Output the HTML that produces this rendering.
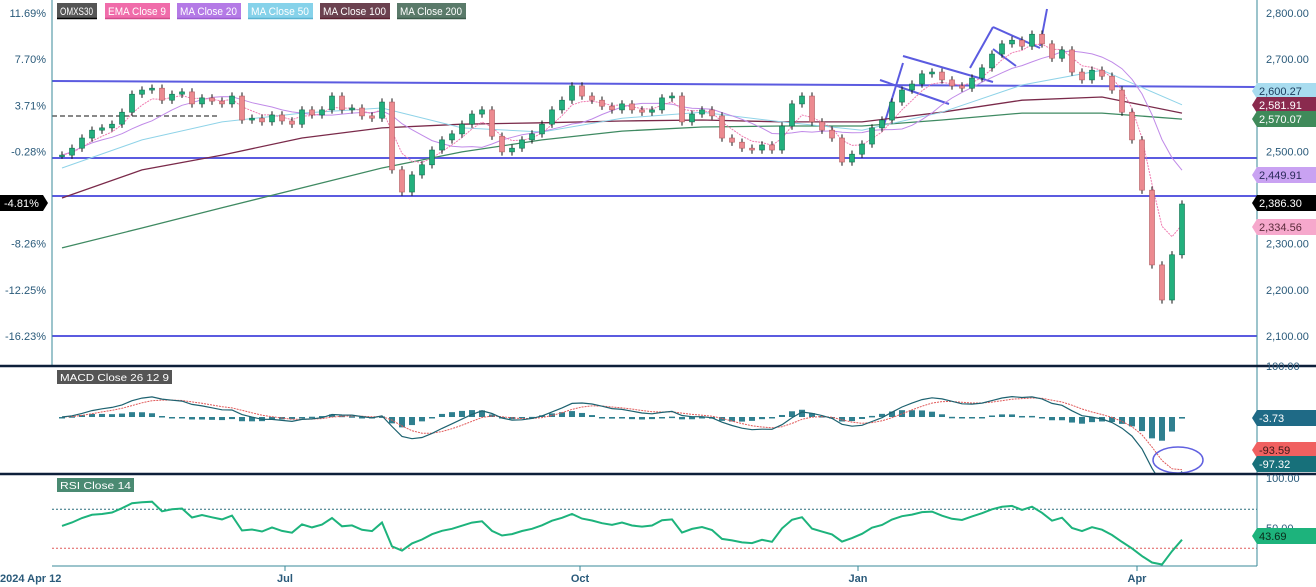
<!DOCTYPE html>
<html><head><meta charset="utf-8">
<style>
body{margin:0;background:#fff;width:1316px;height:587px;overflow:hidden;font-family:"Liberation Sans",sans-serif}
svg{display:block}
text{font-family:"Liberation Sans",sans-serif}
</style></head>
<body>
<svg id="chart" width="1316" height="587" viewBox="0 0 1316 587" xmlns="http://www.w3.org/2000/svg">
<defs>
<clipPath id="macdClip"><rect x="52" y="367" width="1205" height="106"/></clipPath>
<clipPath id="rsiClip"><rect x="52" y="475" width="1205" height="91"/></clipPath>
</defs>
<rect x="0" y="0" width="1316" height="587" fill="#fff"/>
<g id="grid"></g>
<g id="main"></g>
<g id="macd" clip-path="url(#macdClip)"></g>
<g id="rsi" clip-path="url(#rsiClip)"></g>
<g id="axes"></g>
</svg>
<script>
// ---- data ----
const closes=[2492,2507,2529,2546,2551,2559,2585,2624,2633,2637,2611,2624,2629,2603,2616,2609,2603,2620,2568,2572,2564,2579,2566,2559,2590,2579,2590,2620,2590,2594,2577,2572,2607,2460,2412,2449,2471,2503,2525,2538,2559,2581,2590,2533,2499,2507,2525,2538,2559,2590,2611,2642,2620,2611,2598,2590,2603,2590,2585,2590,2616,2620,2564,2581,2590,2577,2529,2520,2507,2503,2514,2503,2555,2603,2620,2564,2546,2529,2477,2494,2516,2551,2568,2607,2633,2646,2668,2672,2655,2642,2637,2659,2681,2711,2733,2741,2728,2754,2733,2702,2720,2672,2655,2676,2663,2633,2585,2525,2416,2254,2178,2276,2386];
const maIdx=[0,8,16,24,32,40,48,56,64,72,80,88,96,104,112];
const ma50=[2464,2525,2564,2583,2594,2551,2542,2572,2585,2564,2546,2585,2644,2676,2601];
const ma100=[2399,2460,2492,2529,2551,2559,2562,2566,2568,2564,2564,2585,2611,2618,2583];
const ma200=[2291,2334,2378,2421,2464,2499,2525,2544,2553,2555,2555,2568,2583,2583,2570];
const priceTicks=[2800,2700,2500,2300,2200,2100];
const pctTicks=["11.69%","7.70%","3.71%","-0.28%","-8.26%","-12.25%","-16.23%"];
const pctTickPrice=[2800,2700,2600,2500,2300,2200,2100];
const dateLabels=["2024 Apr 12","Jul","Oct","Jan","Apr"];
const dateIdx=[-1,22.3,51.8,79.6,107.5];
// ---- scales ----
const NS="http://www.w3.org/2000/svg";
const xOf=i=>62+10*i;
const yP=p=>13+(2800-p)*0.4614;
const yM=v=>417-v*0.56;
const yR=v=>480+(100-v)*0.975;
function el(tag,attrs,parent,txt){const e=document.createElementNS(NS,tag);for(const k in attrs)e.setAttribute(k,attrs[k]);if(txt!==undefined)e.textContent=txt;parent.appendChild(e);return e;}
const G=id=>document.getElementById(id);
function emaArr(a,n){const k=2/(n+1);const r=[];let e=a[0];a.forEach((v,i)=>{e=i?v*k+e*(1-k):v;r.push(e);});return r;}
function smaArr(a,n){return a.map((v,i)=>{const s=a.slice(Math.max(0,i-n+1),i+1);return s.reduce((x,y)=>x+y,0)/s.length;});}
function poly(pts,attrs,parent,name){const p=el('polyline',Object.assign({points:pts.map(q=>q[0].toFixed(1)+','+q[1].toFixed(1)).join(' '),fill:'none'},attrs),parent);return p;}

// annotations
const ann=G('grid');
[[52,81,1257,87],[52,158,1257,158],[52,196,1257,196],[52,336,1257,336],
 [883,128,903,63],[880,80,949,104],[903,56,993,82],[970,68,993,27],[993,27,1040,48],[993,49,1016,66],[1040,46,1047,9]].forEach(l=>{
 const e=el('line',{x1:l[0],y1:l[1],x2:l[2],y2:l[3],stroke:'#5b5be0','stroke-width':2},ann);
 
 
});
const dl=el('line',{x1:52,y1:116,x2:220,y2:116,stroke:'#888','stroke-width':2,'stroke-dasharray':'5,3'},ann);



// moving averages
const main=G('main');
poly(maIdx.map((i,k)=>[xOf(i),yP(ma200[k])]),{stroke:'#3f8a62','stroke-width':1.3},main,'ma200-line');
poly(maIdx.map((i,k)=>[xOf(i),yP(ma100[k])]),{stroke:'#7a2a4a','stroke-width':1.3},main,'ma100-line');
poly(maIdx.map((i,k)=>[xOf(i),yP(ma50[k])]),{stroke:'#8fd3e8','stroke-width':1},main,'ma50-line');
const ma20=smaArr(closes,10), ema9=emaArr(closes,4.5);
poly(ma20.map((v,i)=>[xOf(i),yP(v)]),{stroke:'#c08ae8','stroke-width':1},main,'ma20-line');
poly(ema9.map((v,i)=>[xOf(i),yP(v)]),{stroke:'#f07ab0','stroke-width':1,'stroke-dasharray':'2,1'},main,'ema9-line');
// candles
closes.forEach((c,i)=>{
 const o=i?closes[i-1]:c;const up=c>=o;const x=xOf(i);
 const hi=Math.max(o,c)+8, lo=Math.min(o,c)-8;
 const w=el('line',{x1:x,y1:yP(hi),x2:x,y2:yP(lo),stroke:'#111','stroke-width':1},main);
 
 
 const top=yP(Math.max(o,c)),h=Math.max(1.5,yP(Math.min(o,c))-top);
 const b=el('rect',{x:x-2.5,y:top,width:5,height:h,fill:up?'#22b07d':'#ec8a90',stroke:up?'#0f6e4e':'#b05a60','stroke-width':0.6},main);
 
 
});

// MACD
const mg=G('macd');
const fast=emaArr(closes,6),slow=emaArr(closes,13);
const macd=fast.map((v,i)=>v-slow[i]);const sig=emaArr(macd,4.5);
macd.forEach((v,i)=>{const h=(v-sig[i]);const y0=yM(0),y1=yM(h);
 const r=el('rect',{x:xOf(i)-3,y:Math.min(y0,y1),width:6,height:Math.max(1.5,Math.abs(y1-y0)),fill:'#2f7f8f'},mg);
 
 
});
poly(sig.map((v,i)=>[xOf(i),yM(v)]),{stroke:'#e05a5a','stroke-width':1,'stroke-dasharray':'2,1'},mg,'macd-signal-line');
poly(macd.map((v,i)=>[xOf(i),yM(v)]),{stroke:'#1d6270','stroke-width':1.2},mg,'macd-line');
const ell=el('ellipse',{cx:1178,cy:460,rx:25,ry:13,fill:'none',stroke:'#6060e0','stroke-width':1.5},G('axes'));



// RSI
const rg=G('rsi');
[[70,'#2a6f7f'],[30,'#e05a5a']].forEach(l=>{const e=el('line',{x1:52,y1:yR(l[0]),x2:1257,y2:yR(l[0]),stroke:l[1],'stroke-width':1,'stroke-dasharray':'2,2'},rg);
 
 });
let ag=9,al=8;const rsi=[];const n=12;
closes.forEach((c,i)=>{if(i){const d=c-closes[i-1];const g=Math.max(d,0),l=Math.max(-d,0);
 ag=(ag*(n-1)+g)/n;al=(al*(n-1)+l)/n;}
 rsi.push(al===0?100:100-100/(1+ag/al));});
poly(rsi.map((v,i)=>[xOf(i),yR(v)]),{stroke:'#1db37c','stroke-width':2},rg,'rsi-line');

// axes & labels
const ax=G('axes');
function line(x1,y1,x2,y2,c,w,name){const e=el('line',{x1,y1,x2,y2,stroke:c,'stroke-width':w},ax);}
line(52,0,52,366,'#3a8a9a',1,'left-axis-line');
line(1257,0,1257,566,'#3a8a9a',1,'right-axis-line');
line(52,566,1257,566,'#3a8a9a',1,'bottom-axis-line');
line(0,366,1316,366,'#0d1f3a',2.5,'pane-divider-macd');
line(0,474,1316,474,'#0d1f3a',2.5,'pane-divider-rsi');
function txt(x,y,s,opt,name){const e=el('text',Object.assign({x,y,'font-size':11,fill:'#2a5a7a'},opt||{}),ax,s);return e;}
priceTicks.forEach(p=>txt(1266,yP(p)+4,p.toLocaleString('en-US',{minimumFractionDigits:2}),{},'price-tick'));
pctTicks.forEach((s,k)=>txt(46,yP(pctTickPrice[k])+4,s,{'text-anchor':'end'},'percent-tick'));
txt(1266,370,'100.00',{},'macd-scale-tick');
txt(1266,482,'100.00',{},'rsi-tick-100');
txt(1266,532,'50.00',{},'rsi-tick-50');
dateLabels.forEach((s,k)=>{const x=k?xOf(dateIdx[k]):0;if(k)line(x,566,x,571,'#3a8a9a',1,'date-tick');
 txt(x,582,s,{'text-anchor':k?'middle':'start','font-weight':'bold','font-size':11},'date-label');});
// badges
function badge(y,s,bg,fg,left,name){const x0=left?0:1252,w=left?48:64;
 const pts=left?`${x0},${y-8} ${x0+w-5},${y-8} ${x0+w},${y} ${x0+w-5},${y+8} ${x0},${y+8}`:`${x0+5},${y-8} ${x0+w},${y-8} ${x0+w},${y+8} ${x0+5},${y+8} ${x0},${y}`;
 const p=el('polygon',{points:pts,fill:bg},ax);
 txt(left?4:1259,y+4,s,{fill:fg,'font-size':11},name+'-text');}
badge(91,'2,600.27','#a8dcef','#1a3a5a',false,'ma50-badge');
badge(105,'2,581.91','#8a2a4e','#fff',false,'ma100-badge');
badge(119,'2,570.07','#3f8a5a','#fff',false,'ma200-badge');
badge(175,'2,449.91','#c9a2f2','#2a2a5a',false,'ma20-badge');
badge(203,'2,386.30','#000','#fff',false,'last-price-badge');
badge(227,'2,334.56','#f6a8cc','#5a2a3a',false,'ema9-badge');
badge(203,'-4.81%','#000','#fff',true,'percent-badge');
badge(418,'-3.73','#1f6a86','#fff',false,'macd-hist-badge');
badge(450,'-93.59','#f06060','#3a1a1a',false,'macd-signal-badge');
badge(464,'-97.32','#17707a','#fff',false,'macd-badge');
badge(536,'43.69','#1db37c','#0a2a1a',false,'rsi-badge');
// legend
const leg=[['OMXS30',57,40,'#555','#000'],['EMA Close 9',105,65,'#f06caa','#d04a8a'],['MA Close 20',177,64,'#b47ae6','#9a5ad0'],['MA Close 50',248,65,'#86d2ea','#5ab2d0'],['MA Close 100',320,70,'#6b4250','#5a2030'],['MA Close 200',397,69,'#5a7a6a','#3a5a4a']];
leg.forEach(l=>{const r=el('rect',{x:l[1],y:3,width:l[2],height:15,fill:l[3]},ax);
 line(l[1],18.5,l[1]+l[2],18.5,l[4],1.5,'legend-underline');
 txt(l[1]+3,15,l[0],{fill:'#fff','font-size':11,textLength:l[2]-7,lengthAdjust:'spacingAndGlyphs'},'legend-label');});
[['MACD Close 26 12 9',57,370,115,'#555'],['RSI Close 14',57,478,77,'#4a8a72']].forEach(l=>{const r=el('rect',{x:l[1],y:l[2],width:l[3],height:14,fill:l[4]},ax);
 txt(l[1]+3,l[2]+11,l[0],{fill:'#fff','font-size':10.5,textLength:l[3]-6,lengthAdjust:'spacingAndGlyphs'},'indicator-label-text');});
</script>
</body></html>
